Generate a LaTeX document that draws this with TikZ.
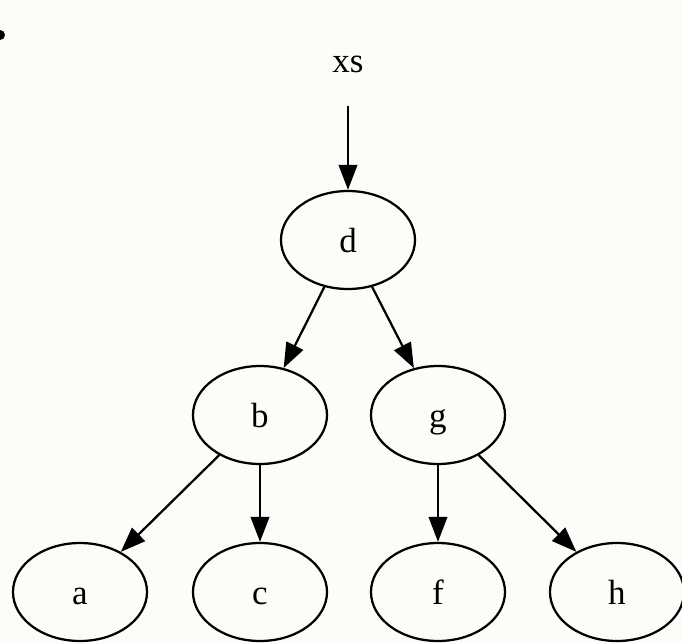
\documentclass[tikz,border=0pt]{standalone}
\usepackage{fontspec}
\setmainfont{Liberation Serif}
\usetikzlibrary{arrows.meta,shapes.geometric}
\definecolor{bgpaper}{RGB}{250,253,248}
\begin{document}
\begin{tikzpicture}[x=0.4pt,y=-0.4pt,
  treenode/.style={ellipse,draw,line width=0.9pt,minimum width=53.6pt,minimum height=39.2pt,inner sep=0pt,
    text height=12pt,text depth=2pt,font=\fontsize{14}{16}\selectfont},
  labelnode/.style={inner sep=0pt,minimum height=36pt,minimum width=20pt,
    text height=12pt,text depth=2pt,font=\fontsize{14}{16}\selectfont},
  link/.style={line width=0.9pt,-{Triangle[length=10pt,width=7.4pt]}}]
  \fill[bgpaper] (0,0) rectangle (682,642);
  \useasboundingbox (0,0) rectangle (682,642);
  % small marker at the left edge
  \node[circle,fill=black,inner sep=0pt,minimum size=4pt] (mark) at (0,35) {};
  % nodes
  \node[labelnode] (xs) at (348,60) {xs};
  \node[treenode] (d) at (348,240) {d};
  \node[treenode] (b) at (260,415) {b};
  \node[treenode] (g) at (438,415) {g};
  \node[treenode] (a) at (80,592) {a};
  \node[treenode] (c) at (260,592) {c};
  \node[treenode] (f) at (438,592) {f};
  \node[treenode] (h) at (617,592) {h};
  % edges
  \draw[link] (xs) -- (d);
  \draw[link] (d) -- (b);
  \draw[link] (d) -- (g);
  \draw[link] (b) -- (a);
  \draw[link] (b) -- (c);
  \draw[link] (g) -- (f);
  \draw[link] (g) -- (h);
\end{tikzpicture}
\end{document}
